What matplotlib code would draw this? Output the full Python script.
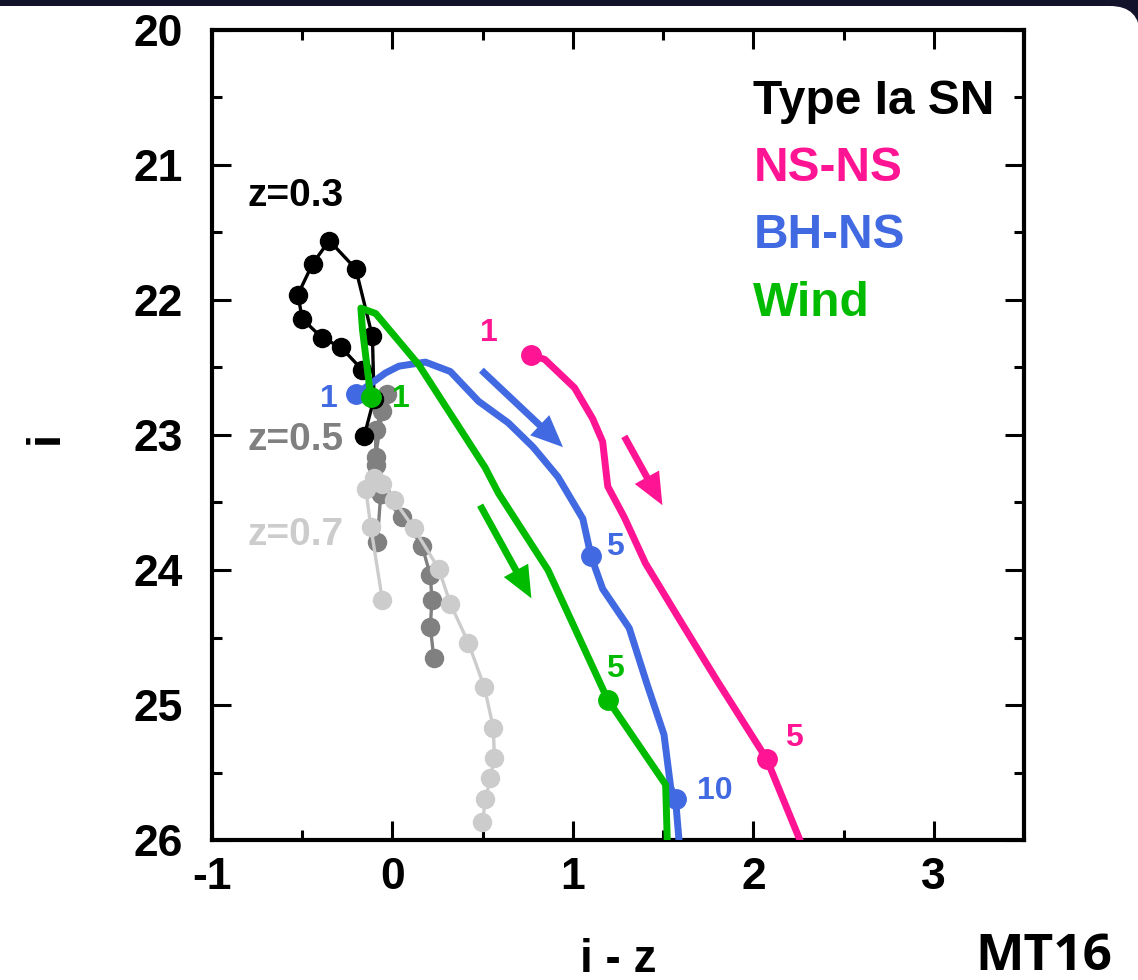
import matplotlib

matplotlib.use("Agg")
import matplotlib.pyplot as plt
from matplotlib.patches import FancyBboxPatch
from matplotlib.transforms import IdentityTransform
from matplotlib.ticker import MultipleLocator

plt.rcParams["axes.unicode_minus"] = False

FONT = "Liberation Sans"
PINK = "#ff1493"
BLUE = "#4169e1"
GREEN = "#00bb00"
GRAY = "#808080"
LIGHT = "#cccccc"

# Type Ia SN tracks at three redshifts
SN03_X = [-0.166, -0.285, -0.390, -0.500, -0.524, -0.442, -0.350, -0.203, -0.111, -0.102, -0.157]
SN03_Y = [22.52, 22.35, 22.28, 22.14, 21.96, 21.73, 21.56, 21.77, 22.27, 22.73, 23.01]

SN05_X = [-0.084, -0.065, -0.093, -0.093, -0.029, -0.056, -0.093, -0.065, 0.054, 0.164, 0.210, 0.219, 0.210, 0.229]
SN05_Y = [23.79, 23.44, 23.22, 22.96, 22.70, 22.82, 23.16, 23.44, 23.61, 23.82, 24.04, 24.22, 24.42, 24.65]

SN07_X = [-0.056, -0.120, -0.148, -0.102, -0.056, 0.008, 0.118, 0.256, 0.321, 0.421, 0.510, 0.559, 0.565, 0.543, 0.515, 0.499]
SN07_Y = [24.22, 23.68, 23.40, 23.32, 23.36, 23.48, 23.69, 23.99, 24.25, 24.54, 24.87, 25.17, 25.39, 25.54, 25.70, 25.87]

# kilonova / wind models
NSNS_X = [0.770, 0.844, 1.009, 1.110, 1.165, 1.193, 1.285, 1.402, 1.597, 1.799, 2.074, 2.258]
NSNS_Y = [22.41, 22.44, 22.65, 22.88, 23.05, 23.38, 23.61, 23.95, 24.38, 24.82, 25.40, 26.00]
NSNS_MARKS = [0, 10]

BHNS_X = [-0.203, -0.038, 0.036, 0.183, 0.321, 0.477, 0.642, 0.780, 0.917, 1.055, 1.101,
          1.165, 1.312, 1.412, 1.505, 1.542, 1.569, 1.588]
BHNS_Y = [22.70, 22.54, 22.49, 22.46, 22.53, 22.75, 22.91, 23.09, 23.31, 23.62, 23.90,
          24.14, 24.43, 24.85, 25.22, 25.61, 25.70, 26.00]
BHNS_MARKS = [0, 10, 16]

WIND_X = [-0.120, -0.166, -0.175, -0.093, 0.146, 0.513, 0.587, 0.862, 1.193, 1.514, 1.523]
WIND_Y = [22.72, 22.22, 22.06, 22.10, 22.48, 23.24, 23.43, 24.00, 24.96, 25.59, 26.00]
WIND_MARKS = [0, 8]

# day labels: (text, x, y, colour)
DAY_LABELS = [
    ("1", -0.355, 22.79, BLUE),
    ("1", 0.047, 22.79, GREEN),
    ("1", 0.537, 22.30, PINK),
    ("5", 1.234, 23.89, BLUE),
    ("5", 1.234, 24.79, GREEN),
    ("5", 2.226, 25.30, PINK),
    ("10", 1.785, 25.70, BLUE),
]

# arrows: (x_tail, y_tail, x_tip, y_tip, colour)
ARROWS = [
    (0.493, 22.52, 0.945, 23.09, BLUE),
    (1.285, 23.01, 1.496, 23.52, PINK),
    (0.486, 23.52, 0.770, 24.21, GREEN),
]

LEGEND = [("Type Ia SN", 20.62, "black"), ("NS-NS", 21.12, PINK),
          ("BH-NS", 21.615, BLUE), ("Wind", 22.12, GREEN)]


def draw_background(fig):
    fig.patch.set_facecolor("#12122a")
    card = FancyBboxPatch((-60, -60), 1200, 1034, boxstyle="round,pad=0,rounding_size=30",
                          transform=IdentityTransform(), facecolor="white",
                          edgecolor="none", zorder=0)
    fig.add_artist(card)


def main():
    fig = plt.figure(figsize=(11.38, 9.8), dpi=100)
    draw_background(fig)
    ax = fig.add_axes([212 / 1138, 1 - 840 / 980, 812 / 1138, 810 / 980])

    ax.plot(SN05_X, SN05_Y, "-o", color=GRAY, lw=2.4, ms=13, zorder=2)
    ax.plot(SN07_X, SN07_Y, "-o", color=LIGHT, lw=2.4, ms=13, zorder=3)
    ax.plot(SN03_X, SN03_Y, "-o", color="black", lw=2.4, ms=13, zorder=4)

    for xs, ys, marks, col in [(NSNS_X, NSNS_Y, NSNS_MARKS, PINK),
                               (BHNS_X, BHNS_Y, BHNS_MARKS, BLUE),
                               (WIND_X, WIND_Y, WIND_MARKS, GREEN)]:
        ax.plot(xs, ys, "-o", color=col, lw=5, ms=14, markevery=marks,
                solid_joinstyle="round", zorder=5)

    for x0, y0, x1, y1, col in ARROWS:
        ax.annotate("", xy=(x1, y1), xytext=(x0, y0),
                    arrowprops=dict(arrowstyle="simple,head_length=1.15,head_width=1.0,tail_width=0.25",
                                    color=col, lw=0, mutation_scale=20,
                                    shrinkA=0, shrinkB=0), zorder=6)

    txt = dict(family=FONT, weight="bold")
    for s, x, y, col in DAY_LABELS:
        ax.text(x, y, s, color=col, fontsize=23, ha="center", va="baseline", **txt)

    ax.text(-0.802, 21.30, "z=0.3", color="black", fontsize=28, ha="left", va="baseline", **txt)
    ax.text(-0.802, 23.11, "z=0.5", color=GRAY, fontsize=28, ha="left", va="baseline", **txt)
    ax.text(-0.802, 23.815, "z=0.7", color=LIGHT, fontsize=28, ha="left", va="baseline", **txt)

    for s, y, col in LEGEND:
        ax.text(2.0, y, s, color=col, fontsize=34.5, ha="left", va="baseline", **txt)

    ax.set_xlim(-1, 3.5)
    ax.set_ylim(26, 20)
    ax.xaxis.set_major_locator(MultipleLocator(1))
    ax.xaxis.set_minor_locator(MultipleLocator(0.5))
    ax.yaxis.set_major_locator(MultipleLocator(1))
    ax.yaxis.set_minor_locator(MultipleLocator(0.5))
    ax.tick_params(which="both", direction="in", top=True, right=True, width=2.2)
    ax.tick_params(which="major", length=14)
    ax.tick_params(which="minor", length=7)
    ax.tick_params(axis="y", which="major", pad=21)
    ax.tick_params(axis="x", which="major", pad=12)
    for lab in ax.get_xticklabels() + ax.get_yticklabels():
        lab.set_fontfamily(FONT)
        lab.set_fontweight("bold")
        lab.set_fontsize(32)
    for sp in ax.spines.values():
        sp.set_linewidth(3)

    ax.set_xlabel("i - z", fontsize=33, va="baseline", **txt)
    ax.xaxis.set_label_coords(0.5, (840 - 972) / 810)
    ax.set_ylabel("i", fontsize=34, **txt)
    ax.yaxis.set_label_coords(-0.178, 0.497)

    fig.text(1112 / 1138, 1 - 970 / 980, "MT16", family="Open Sans", weight="bold",
             fontsize=37, ha="right", va="baseline")

    fig.savefig("out.png", dpi=100, facecolor=fig.get_facecolor())


if __name__ == "__main__":
    main()
